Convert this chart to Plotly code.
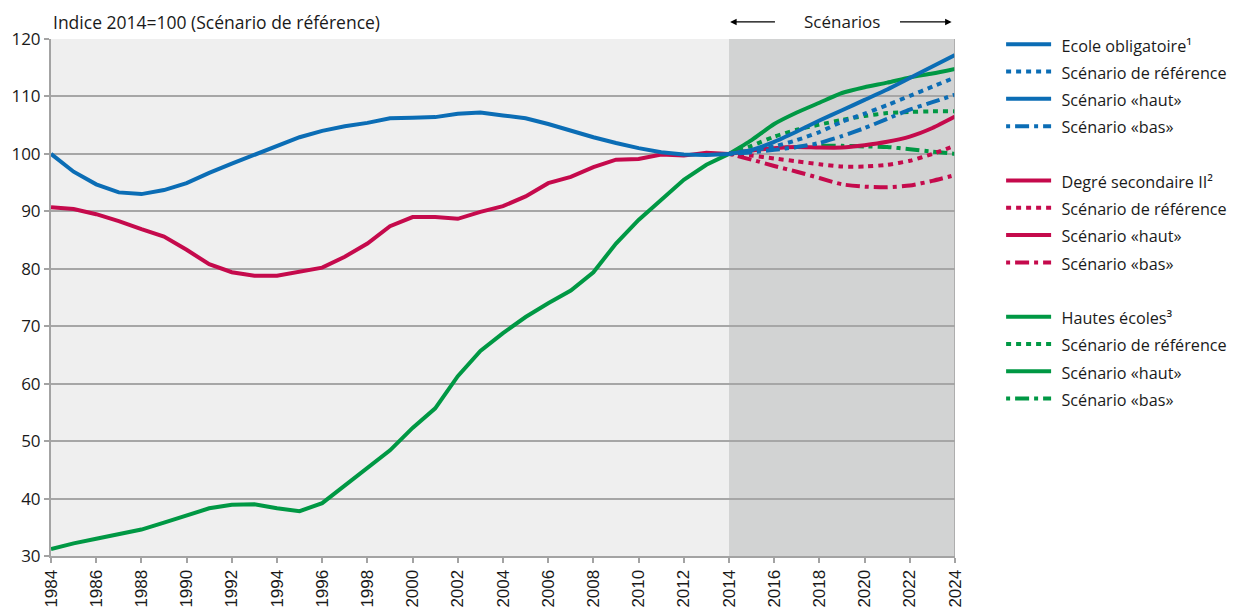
import plotly.graph_objects as go

# historical series, index 2014 = 100
years_hist = list(range(1984, 2015))
ecole_hist = [100.0, 96.9, 94.7, 93.3, 93.0, 93.7, 94.9, 96.7, 98.3, 99.8,
              101.4, 102.9, 104.0, 104.8, 105.4, 106.2, 106.3, 106.4, 107.0, 107.2,
              106.7, 106.2, 105.2, 104.0, 102.9, 101.9, 101.0, 100.3, 99.9, 99.8, 100.0]
sec2_hist = [90.7, 90.4, 89.5, 88.3, 86.9, 85.6, 83.3, 80.8, 79.4, 78.8,
             78.8, 79.5, 80.2, 82.1, 84.4, 87.4, 89.0, 89.0, 88.7, 89.9,
             90.9, 92.6, 94.9, 96.0, 97.7, 99.0, 99.1, 99.9, 99.7, 100.2, 100.0]
he_hist = [31.2, 32.2, 33.0, 33.8, 34.6, 35.8, 37.0, 38.3, 38.9, 39.0,
           38.3, 37.8, 39.2, 42.3, 45.4, 48.4, 52.3, 55.7, 61.3, 65.7,
           68.8, 71.6, 74.0, 76.2, 79.4, 84.4, 88.5, 92.0, 95.5, 98.1, 100.0]

# scenarios 2014-2024
years_scen = list(range(2014, 2025))
ecole_ref = [100, 100.6, 101.3, 102.4, 103.8, 105.6, 107.0, 108.5, 110.1, 111.7, 113.3]
ecole_haut = [100, 100.7, 102.1, 103.9, 105.8, 107.6, 109.4, 111.2, 113.2, 115.2, 117.2]
ecole_bas = [100, 100.3, 100.7, 101.2, 101.9, 103.1, 104.5, 106.1, 107.7, 109.0, 110.3]
sec2_ref = [100, 99.7, 99.2, 98.7, 98.2, 97.8, 97.8, 98.1, 98.8, 100.0, 101.4]
sec2_haut = [100, 100.6, 101.0, 101.2, 101.1, 101.1, 101.5, 102.1, 103.0, 104.5, 106.5]
sec2_bas = [100, 99.0, 97.9, 96.9, 95.8, 94.7, 94.3, 94.2, 94.5, 95.3, 96.3]
he_ref = [100, 101.4, 103.0, 104.2, 105.1, 105.9, 106.6, 107.1, 107.3, 107.4, 107.4]
he_haut = [100, 102.4, 105.2, 107.2, 108.9, 110.6, 111.6, 112.4, 113.3, 114.0, 114.8]
he_bas = [100, 100.5, 100.9, 101.2, 101.4, 101.4, 101.3, 101.2, 100.8, 100.4, 100.0]

BLUE = "#0b6db5"
RED = "#c50a4c"
GREEN = "#009844"
DOT = "5px,5px"
DASHDOT = "4px,5px,14px,5px"

groups = [
    # (group, colour, label, hist, ref, haut, bas, rank)
    ("ecole", BLUE, "Ecole obligatoire¹", ecole_hist, ecole_ref, ecole_haut, ecole_bas, 1),
    ("sec2", RED, "Degré secondaire II²", sec2_hist, sec2_ref, sec2_haut, sec2_bas, 10),
    ("he", GREEN, "Hautes écoles³", he_hist, he_ref, he_haut, he_bas, 20),
]


def lab(s):
    # smaller visible text, legend row height comes from legend font size
    return f"<span style='font-size:16.2px'>\u2009\u2009{s}</span>"


fig = go.Figure()

# draw green first, blue last (blue on top)
for grp, col, name, hist, ref, haut, bas, rk in reversed(groups):
    fig.add_trace(go.Scatter(x=years_hist, y=hist, mode="lines", name=lab(name),
                             legendgroup=grp, legendrank=rk,
                             line=dict(color=col, width=4)))
    fig.add_trace(go.Scatter(x=years_scen, y=ref, mode="lines", name=lab("Scénario de référence"),
                             legendgroup=grp, legendrank=rk + 1,
                             line=dict(color=col, width=4, dash=DOT, shape="spline", smoothing=0.6)))
    fig.add_trace(go.Scatter(x=years_scen, y=haut, mode="lines", name=lab("Scénario «haut»"),
                             legendgroup=grp, legendrank=rk + 2,
                             line=dict(color=col, width=4, shape="spline", smoothing=0.6)))
    fig.add_trace(go.Scatter(x=years_scen, y=bas, mode="lines", name=lab("Scénario «bas»"),
                             legendgroup=grp, legendrank=rk + 3,
                             line=dict(color=col, width=4, dash=DASHDOT, shape="spline", smoothing=0.6)))

# page body has an 8px margin, so the figure is 8px smaller than the window
fig.update_layout(
    width=1228, height=604,
    margin=dict(l=43, r=281, t=31, b=56, autoexpand=False),
    paper_bgcolor="white",
    plot_bgcolor="#efefef",
    font=dict(family="Open Sans, sans-serif", color="#1a1a1a"),
    showlegend=True,
    legend=dict(
        x=1.051, xanchor="left", y=1.026, yanchor="top",
        traceorder="grouped", tracegroupgap=27,
        font=dict(size=18.7, family="Open Sans, sans-serif", color="#1a1a1a"),
        itemwidth=45, bgcolor="rgba(0,0,0,0)", maxheight=600,
    ),
    xaxis=dict(
        range=[1984, 2024], tick0=1984, dtick=2, tickangle=-90,
        showgrid=False, zeroline=False,
        showline=True, linecolor="#a3a3a3", linewidth=2,
        ticks="outside", ticklen=5, tickcolor="#a3a3a3", tickwidth=1.5,
        tickfont=dict(family="Liberation Sans, Arial, sans-serif", size=17, color="#1a1a1a"),
        automargin=False,
    ),
    yaxis=dict(
        range=[30, 120], dtick=10,
        showgrid=True, gridcolor="#a6a6a6", gridwidth=1.6, zeroline=False,
        showline=True, linecolor="#a3a3a3", linewidth=2,
        ticks="outside", ticklen=5, tickcolor="#a3a3a3", tickwidth=1.5,
        tickfont=dict(family="Open Sans, sans-serif", size=17, color="#1a1a1a"),
        automargin=False,
    ),
    shapes=[
        dict(type="rect", xref="x", yref="y", x0=2014, x1=2024, y0=30, y1=120,
             fillcolor="#d2d3d3", line=dict(width=0), layer="below"),
        dict(type="line", xref="x", yref="y", x0=2024, x1=2024, y0=30, y1=120,
             line=dict(color="#a6a6a6", width=1.6)),
    ],
    annotations=[
        dict(text="Indice 2014=100 (Scénario de référence)", xref="paper", yref="paper",
             x=0, y=1.033, xanchor="left", yanchor="middle", showarrow=False,
             font=dict(size=17.5, color="#1a1a1a")),
        dict(text="Scénarios", xref="x", yref="paper", x=2019.0, y=1.033,
             xanchor="center", yanchor="middle", showarrow=False,
             font=dict(size=17, color="#1a1a1a")),
        dict(text="", xref="x", yref="paper", x=2014.05, y=1.033, axref="x", ax=2016.1,
             ayref="pixel", ay=0, showarrow=True, arrowhead=2, arrowsize=1,
             arrowwidth=1.3, arrowcolor="black"),
        dict(text="", xref="x", yref="paper", x=2023.85, y=1.033, axref="x", ax=2021.5,
             ayref="pixel", ay=0, showarrow=True, arrowhead=2, arrowsize=1,
             arrowwidth=1.3, arrowcolor="black"),
    ],
)

fig.write_html("out.html")
